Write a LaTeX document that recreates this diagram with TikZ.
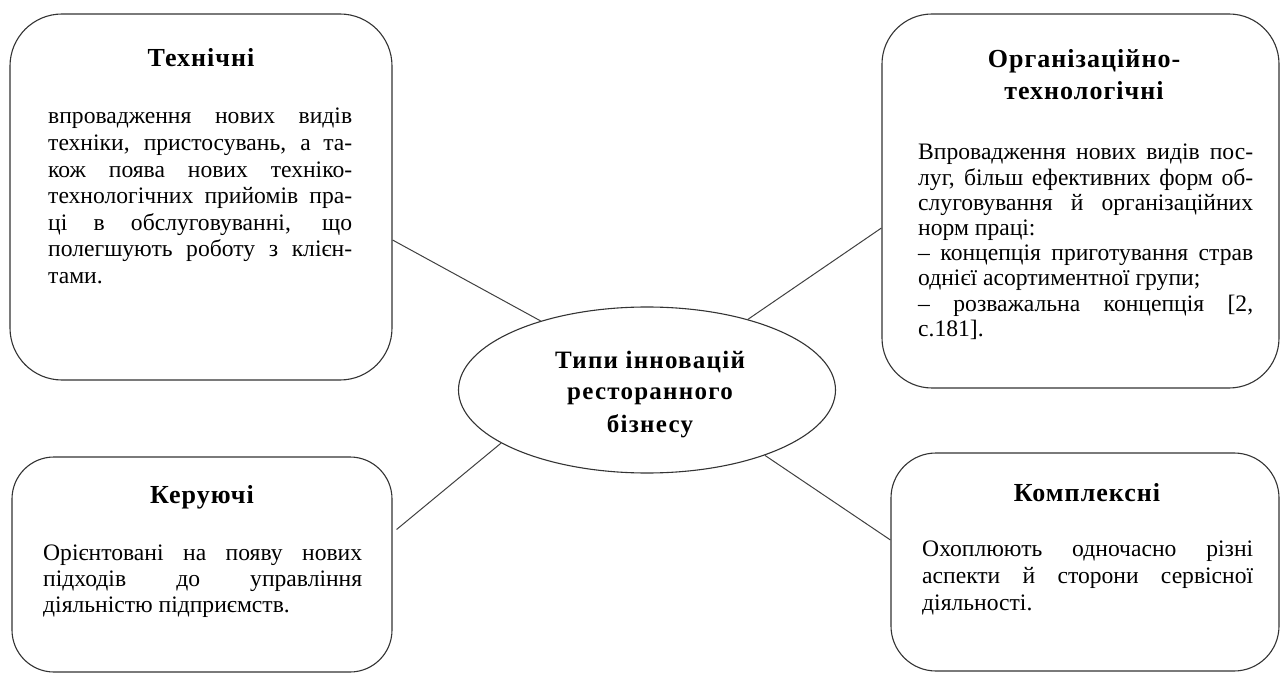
\documentclass[tikz,border=0pt]{standalone}
\usepackage{fontspec}
\setmainfont{Liberation Serif}
\newfontfamily\headfont[LetterSpace=4]{Liberation Serif}
\newfontfamily\hubfont[LetterSpace=5]{Liberation Serif}
\usetikzlibrary{shapes.geometric}

% one justified line of a given width, and a ragged closing line
\newcommand{\jline}[2]{\hbox to #1{#2}}
\newcommand{\rline}[1]{\hbox{#1}}

\begin{document}
\begin{tikzpicture}[x=1pt,y=1pt,
  frame/.style={draw=black!80, line width=1.1pt, rounded corners=#1, inner sep=0pt},
  hub/.style={draw=black!80, line width=1.1pt, ellipse, inner sep=0pt,
    minimum width=377pt, minimum height=166pt},
  link/.style={draw=black!75, line width=1pt},
  title/.style={anchor=base, inner sep=0pt, font=\headfont\bfseries\fontsize{26}{32}\selectfont},
  body/.style={anchor=base west, inner sep=0pt, font=\fontsize{23.6}{#1}\selectfont},
]
\useasboundingbox (0,0) rectangle (1280,673);

% four category boxes
\node[frame=52pt, minimum width=382pt, minimum height=366pt] (tech) at (201,476) {};
\node[frame=50pt, minimum width=397pt, minimum height=374pt] (org)  at (1080.5,472) {};
\node[frame=42pt, minimum width=380pt, minimum height=215pt] (mgmt) at (202,108.5) {};
\node[frame=45pt, minimum width=388pt, minimum height=218pt] (cplx) at (1085,111) {};

% central ellipse
\node[hub] (hub) at (647,283) {};
\node[anchor=base, inner sep=0pt, font=\hubfont\bfseries\fontsize{25}{32}\selectfont]
  (hubtext) at (650,305)
  {\vtop{\halign{\hfil#\hfil\cr Типи інновацій\cr ресторанного\cr бізнесу\cr}}};

% headings
\node[title] (techT) at (201,606.3) {Технічні};
\node[title] (orgT) at (1084,605)
  {\vtop{\halign{\hfil#\hfil\cr Організаційно-\cr технологічні\cr}}};
\node[title] (mgmtT) at (202,170) {Керуючі};
\node[title] (cplxT) at (1087,172) {Комплексні};

% descriptions
\node[body=26.6pt] (techB) at (48,549) {\vtop{%
  \jline{304pt}{впровадження нових видів}
  \jline{304pt}{техніки, пристосувань, а та-}
  \jline{304pt}{кож поява нових техніко-}
  \jline{304pt}{технологічних прийомів пра-}
  \jline{304pt}{ці в обслуговуванні, що}
  \jline{304pt}{полегшують роботу з клієн-}
  \rline{тами.}}};

\node[body=25.2pt] (orgB) at (918,513) {\vtop{%
  \jline{335pt}{Впровадження нових видів пос-}
  \jline{335pt}{луг, більш ефективних форм об-}
  \jline{335pt}{слуговування й організаційних}
  \rline{норм праці:}
  \jline{335pt}{– концепція приготування страв}
  \rline{однієї асортиментної групи;}
  \jline{335pt}{– розважальна концепція [2,}
  \rline{с.181].}}};

\node[body=26.3pt] (mgmtB) at (43,113) {\vtop{%
  \jline{319pt}{Орієнтовані на появу нових}
  \jline{319pt}{підходів до управління}
  \rline{діяльністю підприємств.}}};

\node[body=27pt] (cplxB) at (922,116.3) {\vtop{%
  \jline{331pt}{Охоплюють одночасно різні}
  \jline{331pt}{аспекти й сторони сервісної}
  \rline{діяльності.}}};

% connectors from the hub to each box
\draw[link] ([yshift=-43pt]tech.east) -- (hub.147.9);
\draw[link] ([yshift=-27pt]org.west) -- (hub.35);
\draw[link] ([yshift=35pt,xshift=4pt]mgmt.east) -- (hub.200.7);
\draw[link] ([yshift=22pt]cplx.west) -- (hub.331.4);
\end{tikzpicture}
\end{document}
